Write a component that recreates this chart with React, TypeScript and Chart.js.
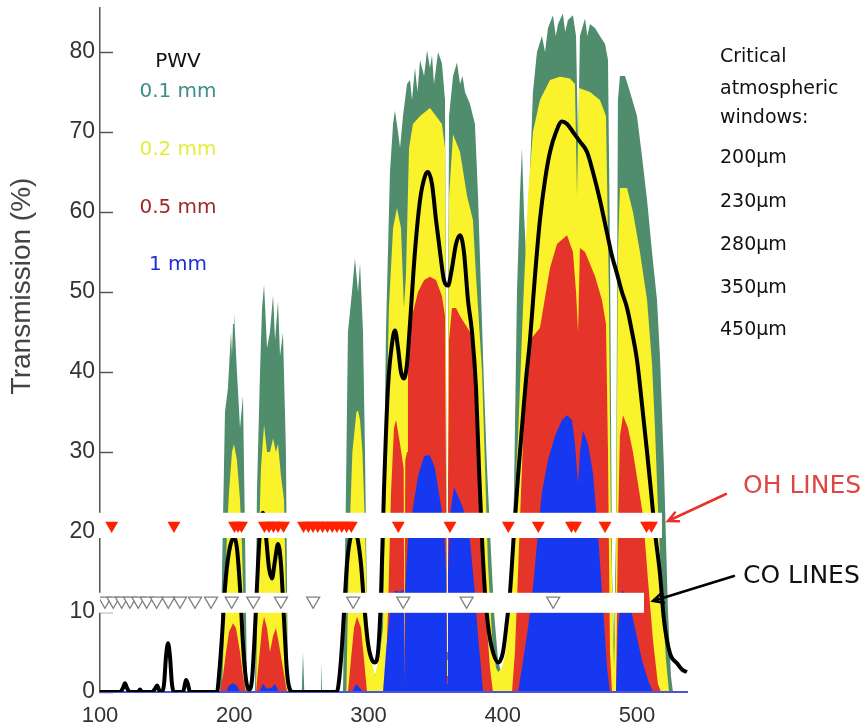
import React, { useEffect, useRef } from 'react';
import { Chart, registerables } from 'chart.js';

Chart.register(...registerables);

// Transmission (%) versus wavelength (µm)
const pwv01: number[][] = [
  [100, 0], [189.4, 0], [190.9, 15], [193.1, 35], [195.3, 38], [197.6, 45], [198.3, 42], [199.1, 46], [199.8, 47.4], [202.0, 40], [204.3, 33], [206.5, 37], [208.0, 20], [209.5, 0],
  [215.5, 0], [216.9, 25], [219.2, 40], [220.7, 48], [222.2, 50.9], [223.6, 46], [224.4, 43], [226.6, 45], [228.9, 49.6], [230.4, 44], [231.1, 44], [232.6, 48.8], [234.1, 42], [236.3, 44.9], [238.5, 30], [240.0, 0],
  [250.3, 0], [251.2, 5], [252.2, 0], [263.9, 0], [264.6, 3.7], [265.4, 0],
  [281.0, 0], [283.2, 25], [284.7, 45], [287.7, 50], [289.9, 54.2], [292.2, 50], [293.7, 53.6], [295.9, 45], [297.4, 30], [298.9, 10], [301.1, 4], [304.8, 2], [308.6, 4],
  [310.8, 15], [313.0, 45], [316.0, 65], [318.3, 71], [319.7, 72.7], [322.0, 70], [323.5, 68], [325.7, 72], [328.7, 76], [330.9, 76.5], [332.4, 74], [334.6, 78], [336.5, 75], [338.4, 79], [341.4, 77], [343.6, 80.2], [345.8, 78], [347.3, 79.6], [348.8, 76], [351.8, 80], [354.7, 78.6], [357.0, 74], [357.8, 40], [358.5, 5], [359.2, 40], [360.0, 72], [363.0, 77], [365.9, 78.7], [368.2, 76], [370.0, 77], [371.9, 75], [375.6, 73.5], [379.3, 71], [381.6, 62], [383.8, 50], [386.1, 38], [388.3, 28], [390.5, 20], [393.5, 10], [396.5, 4], [399.4, 2], [402.4, 3],
  [405.4, 8], [408.4, 25], [410.6, 50], [412.8, 62], [414.3, 68], [415.8, 60], [418.1, 52], [420.3, 65], [422.5, 75], [425.5, 80], [429.2, 82], [431.5, 80], [433.7, 83], [437.4, 84.6], [439.5, 82], [441.2, 83.5], [444.8, 84.8], [446.5, 82.5], [448.6, 84], [452.3, 84.6], [454.6, 82], [456.1, 68], [457.5, 82], [461.3, 84.2], [463.0, 82], [465.0, 83.5], [468.7, 83], [472.4, 82], [476.2, 81], [478.4, 79], [479.9, 55], [481.4, 15], [482.9, 6], [484.4, 20], [485.8, 74], [487.3, 77], [491.1, 77], [494.8, 75], [500.0, 72], [503.7, 67], [507.5, 61.5], [511.2, 55], [514.9, 49], [517.1, 42], [520.1, 28], [523.1, 10], [525.3, 2], [526.8, 0], [538, 0],
];

const pwv02: number[][] = [
  [100, 0], [190.9, 0], [192.4, 8], [194.6, 20], [196.1, 25], [198.3, 30], [199.8, 31], [202.0, 29], [204.3, 24], [205.8, 18], [207.3, 8], [208.8, 0],
  [216.2, 0], [217.7, 15], [219.9, 28], [222.2, 33.4], [224.4, 30], [226.6, 30], [228.9, 31.7], [231.1, 30], [232.6, 31], [234.8, 27], [237.1, 24], [238.5, 12], [240.0, 0],
  [283.5, 0], [285.5, 18], [288.0, 30], [291.0, 35], [292.2, 35.2], [293.7, 34], [295.5, 30], [297.5, 20], [299.0, 10], [301.0, 5], [304.8, 2], [308.6, 5],
  [310.8, 8], [313.0, 30], [315.2, 48], [318.3, 58], [321.2, 60.5], [324.2, 58], [326.4, 48], [327.9, 52], [330.2, 68], [333.1, 71], [338.4, 72], [342.1, 72.5], [345.8, 73], [350.3, 72], [354.7, 71], [357.0, 68], [357.8, 35], [358.5, 4], [359.2, 35], [360.0, 62], [363.0, 69.7], [368.2, 67.5], [373.4, 62], [377.8, 59], [380.1, 52], [381.6, 48], [384.6, 40], [386.8, 28], [389.0, 16], [392.0, 7], [395.0, 3], [396.5, 2.5], [399.4, 3], [402.4, 5],
  [405.4, 12], [407.6, 20], [411.4, 32], [415.1, 48], [418.8, 62], [422.5, 70], [427.7, 74], [435.2, 76.5], [442.6, 76.9], [450.1, 76.7], [453.8, 76], [455.3, 62], [456.8, 75.5], [465.0, 75], [472.4, 74], [476.9, 72], [479.1, 50], [480.6, 20], [482.9, 3], [484.4, 15], [485.8, 55], [487.3, 63], [492.6, 63], [497.0, 60], [502.2, 55], [507.5, 49], [511.2, 41], [513.4, 33], [515.6, 23], [518.6, 12], [521.6, 4], [523.9, 0], [538, 0],
];

const pwv05: number[][] = [
  [100, 0], [189.4, 0], [191.6, 2], [193.9, 5], [196.1, 7.5], [199.1, 8.6], [201.3, 8], [204.3, 5], [206.5, 2], [208.8, 0],
  [216.2, 0], [218.4, 4], [220.7, 8], [222.2, 9.4], [224.4, 8], [226.6, 5], [228.9, 7], [231.1, 8], [233.3, 6], [236.3, 3], [239.3, 0],
  [284.7, 0], [286.9, 4], [289.2, 8], [291.4, 9.4], [294.4, 8], [296.7, 4], [298.9, 0],
  [312.3, 0], [314.5, 10], [316.8, 25], [319.0, 33], [320.5, 34], [323.5, 31], [326.2, 28], [326.8, 1], [327.4, 29], [328.7, 30], [329.4, 42], [332.4, 47], [336.9, 50], [341.4, 51.5], [345.8, 51.9], [350.3, 51.5], [354.7, 49.5], [357.0, 47], [357.8, 25], [358.5, 2], [359.2, 25], [360.0, 44], [362.2, 48], [365.2, 48], [368.2, 47], [371.9, 46], [375.6, 45], [378.6, 42], [381.6, 33], [383.8, 23], [386.1, 14], [388.3, 8], [390.5, 3], [392.7, 0],
  [406.9, 0], [409.1, 5], [411.4, 15], [413.6, 25], [416.6, 38], [420.3, 44], [427.7, 45.5], [435.2, 53], [440.4, 56], [447.9, 57.1], [452.3, 55], [454.6, 50], [456.1, 45], [457.5, 55.5], [461.3, 55], [468.7, 52], [473.9, 49], [476.9, 46], [478.4, 30], [479.9, 5], [481.4, 0], [484.4, 0], [485.8, 20], [487.3, 32], [489.6, 34.6], [493.3, 33], [497.0, 30], [500.8, 26], [504.5, 22], [508.2, 14], [511.9, 6.5], [515.6, 1], [517.9, 0], [538, 0],
];

const pwv10: number[][] = [
  [100, 0], [193.9, 0], [196.1, 0.8], [199.1, 1.1], [202.0, 0.8], [204.3, 0],
  [218.4, 0], [221.4, 1], [224.4, 0.4], [227.4, 0.5], [230.4, 1], [233.3, 0],
  [287.7, 0], [290.7, 1], [293.7, 0.5], [295.9, 0],
  [310.8, 0], [313.0, 5], [316.0, 10], [319.7, 12.7], [323.5, 12.5], [326.2, 12.8], [326.8, 0.5], [327.4, 13], [329.4, 19], [333.1, 23], [336.9, 27], [341.4, 29.5], [345.8, 29.6], [349.5, 28], [353.3, 24], [356.2, 21], [357.8, 15], [358.5, 1], [359.2, 15], [360.7, 22], [363.7, 25.6], [366.7, 24.5], [370.4, 23], [373.4, 21], [375.6, 19], [377.8, 15], [379.3, 12.4], [381.6, 7], [383.8, 3], [385.3, 0],
  [411.4, 0], [414.3, 3], [418.8, 8], [422.5, 13], [426.3, 20], [429.2, 25], [433.7, 29], [438.9, 32], [444.1, 34], [447.9, 34.6], [451.6, 34], [453.8, 31], [456.1, 26], [457.5, 30], [459.8, 32.7], [463.5, 31], [467.2, 27.4], [470.9, 20], [474.7, 10.6], [477.7, 3], [479.9, 0], [484.4, 0], [485.8, 8], [488.8, 12.7], [493.3, 12], [498.5, 8], [503.7, 4], [508.2, 1.5], [511.9, 0], [538, 0],
];

const smoothed: number[][] = [
  [100, 0], [114.9, 0], [117.1, 0.5], [118.6, 1.1], [120.1, 0.5], [122.3, 0], [128.3, 0], [129.8, 0.3], [131.3, 0], [138.7, 0], [141.0, 0.4], [142.5, 0.8], [143.9, 0.3], [146.2, 0], [147.7, 1], [149.2, 4.5], [150.7, 6.1], [152.1, 4.5], [153.6, 1], [155.1, 0], [161.8, 0], [163.3, 1], [164.1, 1.5], [165.5, 1], [167.0, 0],
  [187.2, 0], [188.6, 2], [190.9, 7], [193.1, 13], [196.1, 17.5], [199.8, 19.3], [202.0, 18], [204.3, 13], [206.5, 6], [208.8, 1.5], [211.0, 0.3], [213.2, 1.5], [215.5, 8], [217.7, 16], [219.9, 21.5], [221.4, 22.4], [223.6, 19.5], [225.9, 15.5], [228.1, 14.2], [230.4, 16.5], [232.6, 18.5], [234.8, 16], [237.1, 9], [239.3, 2.5], [241.5, 0.3], [243.8, 0],
  [275.8, 0], [277.3, 0.5], [279.5, 4], [281.8, 10], [284.0, 16], [286.9, 19.5], [289.2, 20], [291.4, 19.5], [294.4, 16], [296.7, 11], [299.7, 6], [302.6, 4], [304.8, 3.7], [307.1, 5], [309.3, 12], [311.5, 25], [314.5, 38], [317.5, 43.5], [319.7, 45.2], [322.0, 43], [324.2, 40], [326.4, 39.2], [328.7, 41], [330.9, 46], [334.6, 55], [338.4, 61.5], [342.1, 64.5], [344.3, 65], [347.3, 63.5], [350.3, 59], [353.3, 55], [356.2, 51.5], [359.2, 50.8], [362.2, 53], [365.2, 56], [368.2, 57.1], [371.1, 55], [374.1, 49], [377.1, 45], [380.1, 38], [382.3, 28], [384.6, 19], [386.8, 12.4], [389.7, 7.5], [392.7, 5], [396.5, 3.7],
  [400.2, 5], [403.2, 9], [405.4, 12.4], [408.4, 20], [411.4, 27], [414.3, 33], [417.3, 39], [420.3, 44], [424.0, 52], [427.7, 59], [431.5, 64], [435.2, 67.5], [439.7, 70], [444.1, 71.3], [447.9, 71], [452.3, 70], [457.5, 68.8], [462.8, 67.5], [467.2, 65], [472.4, 61.5], [476.9, 58], [481.4, 54.5], [485.1, 52.3], [488.8, 50], [492.6, 48], [496.3, 45], [500.0, 41.5], [503.7, 36], [507.5, 30], [510.5, 25], [513.4, 20], [517.1, 14.8], [520.1, 9], [522.3, 6.5], [525.3, 4.5], [529.8, 3.6], [533.5, 2.8], [537.2, 2.5],
];

// Sky line positions (µm)
const ohLines = [108.7, 155.1, 200.2, 202.8, 205.4, 222.5, 225.9, 229.2, 232.6, 236.7,
  251.6, 255.2, 258.7, 262.2, 265.8, 269.4, 273.0, 276.5, 280.1, 283.7, 287.2,
  322.2, 360.7, 404.2, 426.5, 451.2, 454.2, 476.2, 507.1, 510.8];
const coLines = [103.7, 109.9, 116.2, 122.3, 128.5, 134.8, 142.2, 150.9, 159.6, 170.8, 182.7,
  198.1, 214.2, 234.8, 258.8, 288.6, 325.9, 373.1, 437.6];
const ohLevel = 20.8;
const coLevel = 11.4;

const xTickValues = [100, 200, 300, 400, 500];
const yTickValues = [0, 10, 20, 30, 40, 50, 60, 70, 80];
const pwvLabels = ['0.1 mm', '0.2 mm', '0.5 mm', '1 mm'];
const windowLabels = ['200μm', '230μm', '280μm', '350μm', '450μm'];

const GREEN = '#4f8d6d';
const YELLOW = '#faf22a';
const RED = '#e5352a';
const BLUE = '#1638f0';

const toXY = (a: number[][]) => a.map(([x, y]) => ({ x, y }));

const overlay = {
  id: 'overlay',
  beforeDatasetsDraw(chart: any) {
    const { ctx, chartArea, scales } = chart;
    const y = scales.y;
    ctx.save();
    ctx.strokeStyle = '#555';
    ctx.lineWidth = 1.5;
    yTickValues.forEach((v) => {
      const py = Math.round(y.getPixelForValue(v)) + 0.5;
      ctx.beginPath();
      ctx.moveTo(chartArea.left, py);
      ctx.lineTo(chartArea.left + 13, py);
      ctx.stroke();
    });
    ctx.restore();
    chart.$bandsDone = false;
  },
  beforeDatasetDraw(chart: any, args: any) {
    const { ctx, chartArea, scales } = chart;
    const { x, y } = scales;
    const ds = chart.data.datasets[args.index];
    if (ds.label === 'smoothed') {
      ctx.save();
      ctx.strokeStyle = '#4a55d8';
      ctx.lineWidth = 2;
      ctx.beginPath();
      ctx.moveTo(chartArea.left, chartArea.bottom);
      ctx.lineTo(chartArea.right, chartArea.bottom);
      ctx.stroke();
      ctx.restore();
    }
    if ((ds.label === 'CO lines' || ds.label === 'OH lines') && !chart.$bandsDone) {
      chart.$bandsDone = true;
      ctx.save();
      ctx.fillStyle = '#ffffff';
      const band = (x0: number, x1: number, y0: number, y1: number) => {
        const px0 = x.getPixelForValue(x0);
        const px1 = x.getPixelForValue(x1);
        const py0 = y.getPixelForValue(y1);
        const py1 = y.getPixelForValue(y0);
        ctx.fillRect(px0, py0, px1 - px0, py1 - py0);
      };
      band(97.8, 518.6, 19.25, 22.4);
      band(97.8, 505.2, 9.9, 12.4);
      ctx.restore();
    }
  },
  afterDraw(chart: any) {
    const { ctx } = chart;
    ctx.save();
    // axis title
    ctx.save();
    ctx.translate(22, 286);
    ctx.rotate(-Math.PI / 2);
    ctx.font = '28px "Liberation Sans", Arial, sans-serif';
    ctx.fillStyle = '#444';
    ctx.textAlign = 'center';
    ctx.textBaseline = 'middle';
    ctx.fillText('Transmission (%)', 0, 0);
    ctx.restore();

    const f = '"DejaVu Sans", sans-serif';
    ctx.textBaseline = 'alphabetic';
    ctx.textAlign = 'center';
    ctx.font = `20px ${f}`;
    ctx.fillStyle = '#111';
    ctx.fillText('PWV', 178, 67);
    const pwvColors = ['#3d8d88', '#e4ee3a', '#a02828', '#1c2fd8'];
    const pwvY = [97, 155, 213, 270];
    pwvLabels.forEach((t, i) => {
      ctx.fillStyle = pwvColors[i];
      ctx.fillText(t, 178, pwvY[i]);
    });

    ctx.textAlign = 'left';
    ctx.fillStyle = '#111';
    ctx.font = `19px ${f}`;
    ctx.fillText('Critical', 720, 62);
    ctx.fillText('atmospheric', 720, 94);
    ctx.fillText('windows:', 720, 123);
    const wy = [163, 207, 250, 293, 335];
    windowLabels.forEach((t, i) => ctx.fillText(t, 720, wy[i]));

    ctx.font = `25px ${f}`;
    ctx.fillStyle = '#e04545';
    ctx.fillText('OH LINES', 743, 493);
    ctx.fillStyle = '#111';
    ctx.fillText('CO LINES', 743, 583);

    const arrow = (x0: number, y0: number, x1: number, y1: number, color: string) => {
      ctx.strokeStyle = color;
      ctx.lineWidth = 2.5;
      ctx.lineCap = 'round';
      ctx.beginPath();
      ctx.moveTo(x0, y0);
      ctx.lineTo(x1, y1);
      const a = Math.atan2(y1 - y0, x1 - x0);
      const L = 11;
      ctx.moveTo(x1 - L * Math.cos(a - 0.45), y1 - L * Math.sin(a - 0.45));
      ctx.lineTo(x1, y1);
      ctx.lineTo(x1 - L * Math.cos(a + 0.45), y1 - L * Math.sin(a + 0.45));
      ctx.stroke();
    };
    arrow(726, 494, 668, 521, '#e8322a');
    arrow(734, 576, 653, 601, '#000');
    ctx.restore();
  },
};

export default function App() {
  const ref = useRef<HTMLCanvasElement | null>(null);
  useEffect(() => {
    if (!ref.current) return;
    const area = (label: string, data: number[][], color: string, order: number) => ({
      label,
      data: toXY(data),
      backgroundColor: color,
      borderColor: 'rgba(0,0,0,0)',
      borderWidth: 0,
      fill: 'origin',
      pointRadius: 0,
      tension: 0,
      order,
    });
    const chart = new Chart(ref.current, {
      type: 'line',
      data: {
        datasets: [
          {
            label: 'OH lines',
            data: ohLines.map((x) => ({ x, y: ohLevel })),
            showLine: false,
            pointStyle: 'triangle',
            rotation: 180,
            pointRadius: 7.5,
            pointBackgroundColor: '#ff2200',
            pointBorderColor: '#ff2200',
            pointBorderWidth: 0,
            order: -2,
          } as any,
          {
            label: 'CO lines',
            data: coLines.map((x) => ({ x, y: coLevel })),
            showLine: false,
            pointStyle: 'triangle',
            rotation: 180,
            pointRadius: 7.5,
            pointBackgroundColor: '#ffffff',
            pointBorderColor: '#808080',
            pointBorderWidth: 1.3,
            order: -1,
          } as any,
          {
            label: 'smoothed',
            data: toXY(smoothed),
            borderColor: '#000',
            borderWidth: 4,
            pointRadius: 0,
            fill: false,
            cubicInterpolationMode: 'monotone',
            order: 0,
          } as any,
          area('PWV 1 mm', pwv10, BLUE, 1),
          area('PWV 0.5 mm', pwv05, RED, 2),
          area('PWV 0.2 mm', pwv02, YELLOW, 3),
          area('PWV 0.1 mm', pwv01, GREEN, 4),
        ],
      },
      options: {
        animation: false,
        responsive: false,
        devicePixelRatio: 1,
        layout: { padding: { top: 8, right: 176, bottom: 0, left: 0 }, autoPadding: false } as any,
        plugins: { legend: { display: false }, tooltip: { enabled: false }, title: { display: false } },
        scales: {
          x: {
            type: 'linear',
            min: 100,
            max: 538,
            grid: { display: false, drawTicks: false },
            border: { display: false },
            ticks: {
              includeBounds: false,
              stepSize: 100,
              padding: 11,
              color: '#333',
              font: { family: '"Liberation Sans", Arial, sans-serif', size: 22 },
              callback: (v: any) => (xTickValues.includes(Number(v)) ? String(v) : ''),
            },
            afterFit: (s: any) => {
              s.height = 36;
              s.paddingLeft = 0; s.paddingRight = 0; s.paddingTop = 0; s.paddingBottom = 0;
            },
          },
          y: {
            type: 'linear',
            min: 0,
            max: 85.5,
            grid: { display: false, drawTicks: false },
            border: { display: true, color: '#555', width: 1.5 },
            ticks: {
              includeBounds: false,
              stepSize: 10,
              padding: 5,
              color: '#333',
              font: { family: '"Liberation Sans", Arial, sans-serif', size: 23 },
              callback: (v: any) => (yTickValues.includes(Number(v)) ? String(v) : ''),
            },
            afterFit: (s: any) => {
              s.width = 100;
              s.paddingLeft = 0; s.paddingRight = 0; s.paddingTop = 0; s.paddingBottom = 0;
            },
          },
        },
      } as any,
      plugins: [overlay],
    });
    return () => chart.destroy();
  }, []);
  return (
    <div style={{ position: 'absolute', left: 0, top: 0, width: 864, height: 728, background: '#fff' }}>
      <canvas ref={ref} width={864} height={728} style={{ display: 'block' }} />
    </div>
  );
}
